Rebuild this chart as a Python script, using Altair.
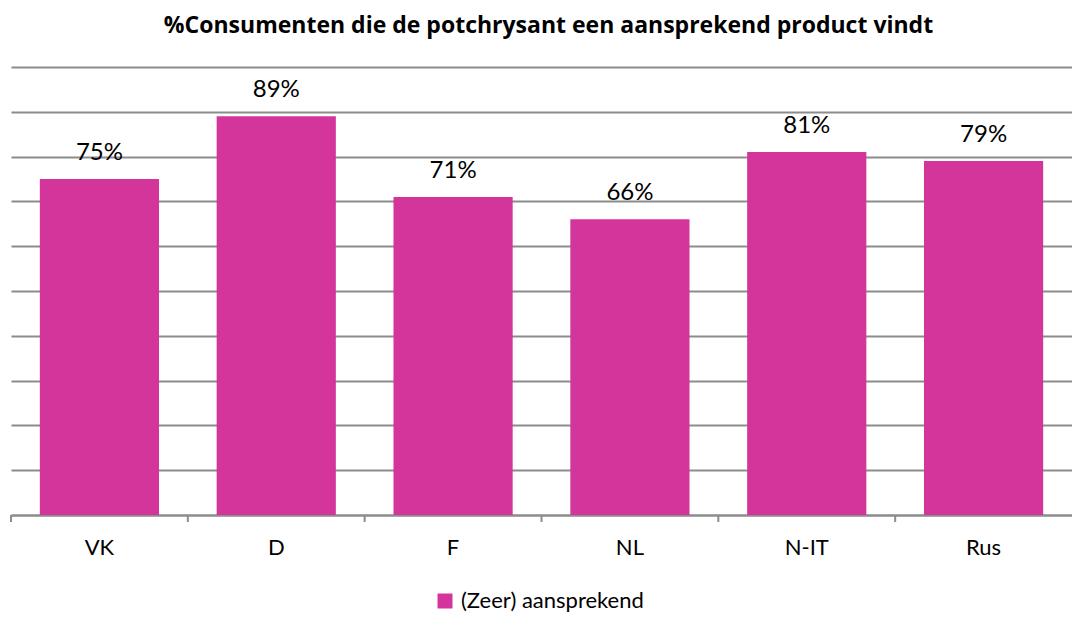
import altair as alt
import pandas as pd

categories = ["VK", "D", "F", "NL", "N-IT", "Rus"]
values = [75, 89, 71, 66, 81, 79]
labels = ["75%", "89%", "71%", "66%", "81%", "79%"]
series_name = "(Zeer) aansprekend"
title_text = "%Consumenten die de potchrysant een aansprekend product vindt"

df = pd.DataFrame({"cat": categories, "val": values, "lab": labels, "series": series_name})

FONT = "Lato"
TITLE_FONT = "Open Sans"
PINK = "#D4359A"
GRID = "#8c8c8c"

x_enc = alt.X(
    "cat:N",
    sort=categories,
    scale=alt.Scale(paddingInner=0, paddingOuter=0),
    axis=alt.Axis(
        title=None, labelAngle=0, ticks=False, domain=True, domainColor=GRID,
        domainWidth=2, labelFontSize=22, labelFont=FONT, labelColor="#000000",
        labelPadding=22, grid=False,
    ),
)
y_enc = alt.Y(
    "val:Q",
    scale=alt.Scale(domain=[0, 100]),
    axis=alt.Axis(
        title=None, labels=False, ticks=False, domain=False, values=list(range(0, 101, 10)),
        grid=True, gridColor=GRID, gridWidth=2, gridOpacity=1,
    ),
)

bars = alt.Chart(df).mark_bar(width=alt.RelativeBandSize(0.674), color=PINK).encode(
    x=x_enc,
    y=y_enc,
    color=alt.Color(
        "series:N",
        scale=alt.Scale(range=[PINK]),
        legend=alt.Legend(
            title=None, orient="none", legendX=423, legendY=523, symbolType="square",
            symbolSize=225, symbolStrokeWidth=0, labelFontSize=22, labelFont=FONT,
            labelColor="#000000", symbolOffset=0, labelOffset=5, padding=0,
            labelLimit=400,
        ),
    ),
)

text = alt.Chart(df).mark_text(
    baseline="middle", dy=-26, fontSize=24, font=FONT, color="#000000"
).encode(
    x=alt.X("cat:N", sort=categories),
    y=alt.Y("val:Q"),
    text="lab:N",
)

ticks = alt.Chart(df).mark_rule(color=GRID, strokeWidth=2).encode(
    x=alt.X("cat:N", sort=categories, bandPosition=0),
    y=alt.value(448),
    y2=alt.value(455),
)

chart = alt.layer(bars, text, ticks).properties(
    width=1061,
    height=448,
    padding={"left": 3, "right": 0, "top": 59, "bottom": 97},
    autosize=alt.AutoSizeParams(type="none"),
    title=alt.TitleParams(
        text=title_text, font=TITLE_FONT, fontSize=23, fontWeight="bold", color="#000000",
        anchor="middle", offset=29, dx=7, limit=1000,
    ),
).configure_view(stroke=None)

chart.save("out.html", embed_options={"renderer": "svg", "actions": False})
